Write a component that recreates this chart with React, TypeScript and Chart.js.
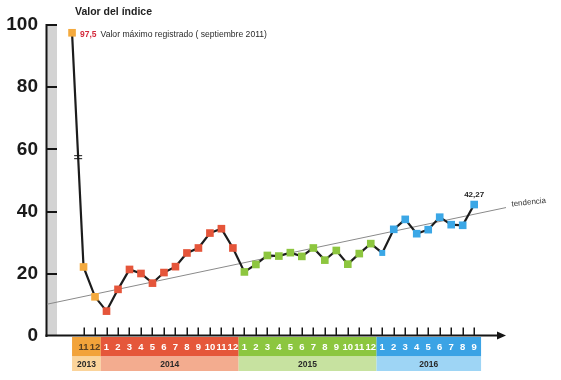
import React, { useEffect, useRef } from "react";
import { Chart, registerables } from "chart.js";

Chart.register(...registerables);

// ---- Data ----
const titleText = "Valor del índice";
const yearLabels = ["2013", "2014", "2015", "2016"];
const months2013 = ["11", "12"];
const months2014 = ["1", "2", "3", "4", "5", "6", "7", "8", "9", "10", "11", "12"];
const months2015 = ["1", "2", "3", "4", "5", "6", "7", "8", "9", "10", "11", "12"];
const months2016 = ["1", "2", "3", "4", "5", "6", "7", "8", "9"];

const maxValue = 97.5; // septiembre 2011
const maxValueLabel = "97,5";
const maxValueNote = "Valor máximo registrado ( septiembre 2011)";
const values2013 = [22.2, 12.6];
const values2014 = [8.0, 15.0, 21.4, 20.1, 17.0, 20.4, 22.3, 26.7, 28.3, 33.1, 34.5, 28.3];
const values2015 = [20.6, 23.0, 25.9, 25.7, 26.8, 25.6, 28.3, 24.4, 27.5, 23.1, 26.5, 29.7];
const values2016 = [26.7, 34.3, 37.5, 32.9, 34.2, 38.2, 35.8, 35.6, 42.27];
const lastValueLabel = "42,27";

const trendLabel = "tendencia";
const trendLine = [
  { x: -2.2, y: 10.2 },
  { x: 37.9, y: 41.4 },
];
const yTicks = [0, 20, 40, 60, 80, 100];

// ---- Styles ----
const pointColors = ["#F4AA3E", "#E5553A", "#8DC63F", "#3BA7E6"];
const monthBandColors = ["#F2A33A", "#E5573A", "#8CC63F", "#3BA3E5"];
const yearBandColors = ["#FBD49B", "#F3AC8F", "#C7E2A0", "#9ED5F5"];

const monthGroups = [months2013, months2014, months2015, months2016];
const valueGroups = [values2013, values2014, values2015, values2016];

const allValues: number[] = [maxValue];
const allYear: number[] = [0];
valueGroups.forEach((vals, g) => {
  vals.forEach((v) => {
    allValues.push(v);
    allYear.push(g);
  });
});

const FONT = "'Liberation Sans', Arial, sans-serif";

const overlay = {
  id: "overlay",
  beforeDatasetsDraw(chart: any) {
    const { ctx, scales } = chart;
    const x = scales.x;
    const y = scales.y;
    const left = chart.chartArea.left;
    const yTop = y.getPixelForValue(100);
    const y0 = y.getPixelForValue(0);
    ctx.save();
    // grey band on y axis
    ctx.fillStyle = "#D3D3D3";
    ctx.fillRect(left, yTop, 10, y0 - yTop);
    ctx.strokeStyle = "#151515";
    ctx.lineWidth = 2;
    ctx.beginPath();
    ctx.moveTo(left - 0.5, yTop - 1);
    ctx.lineTo(left - 0.5, y0 + 1);
    ctx.moveTo(left - 1.5, yTop);
    ctx.lineTo(left + 10, yTop);
    yTicks.slice(1, -1).forEach((v) => {
      const py = Math.round(y.getPixelForValue(v));
      ctx.moveTo(left - 1, py);
      ctx.lineTo(left + 10, py);
    });
    ctx.stroke();

    // x axis with arrow
    const axisY = y0 - 0.5;
    const right = chart.chartArea.right;
    ctx.beginPath();
    ctx.moveTo(left - 1.5, axisY);
    ctx.lineTo(right - 6, axisY);
    ctx.stroke();
    ctx.fillStyle = "#151515";
    ctx.beginPath();
    ctx.moveTo(right - 9, axisY - 4);
    ctx.lineTo(right, axisY);
    ctx.lineTo(right - 9, axisY + 4);
    ctx.closePath();
    ctx.fill();

    // category ticks
    ctx.lineWidth = 1.5;
    ctx.beginPath();
    for (let i = 1; i < allValues.length; i++) {
      const px = Math.round(x.getPixelForValue(i)) + 0.25;
      ctx.moveTo(px, axisY - 8);
      ctx.lineTo(px, axisY);
    }
    ctx.stroke();

    // bands under axis
    const rowTop = y0 + 1;
    const rowMid = y0 + 20.5;
    const rowBot = y0 + 35;
    let idx = 1;
    monthGroups.forEach((months, g) => {
      const first = idx;
      const last = idx + months.length - 1;
      const startV = g === 0 ? 0 : first - 0.5;
      const endV = g === monthGroups.length - 1 ? last + 0.6 : last + 0.5;
      const sx = x.getPixelForValue(startV);
      const ex = x.getPixelForValue(endV);
      ctx.fillStyle = monthBandColors[g];
      ctx.fillRect(sx, rowTop, ex - sx, rowMid - rowTop);
      ctx.fillStyle = yearBandColors[g];
      ctx.fillRect(sx, rowMid, ex - sx, rowBot - rowMid);
      ctx.textAlign = "center";
      ctx.textBaseline = "middle";
      ctx.font = `bold 9.5px ${FONT}`;
      months.forEach((m, k) => {
        ctx.fillStyle = g === 0 ? "#5a4020" : "#ffffff";
        ctx.fillText(m, x.getPixelForValue(first + k), (rowTop + rowMid) / 2 + 0.5);
      });
      ctx.fillStyle = "#2a2a2a";
      ctx.font = `bold 8.5px ${FONT}`;
      ctx.fillText(yearLabels[g], (sx + ex) / 2, (rowMid + rowBot) / 2 + 0.5);
      idx += months.length;
    });
    ctx.restore();
  },
  afterDatasetsDraw(chart: any) {
    const { ctx, scales } = chart;
    const x = scales.x;
    const y = scales.y;
    const meta = chart.getDatasetMeta(0);
    const p0 = meta.data[0];
    const p1 = meta.data[1];
    ctx.save();
    // break mark on the steep segment
    const by = y.getPixelForValue(57.5);
    const t = (by - p0.y) / (p1.y - p0.y);
    const bx = p0.x + t * (p1.x - p0.x);
    ctx.strokeStyle = "#151515";
    ctx.lineWidth = 1;
    ctx.beginPath();
    ctx.moveTo(bx - 4, by - 1.5);
    ctx.lineTo(bx + 4, by - 1.5);
    ctx.moveTo(bx - 4, by + 1.5);
    ctx.lineTo(bx + 4, by + 1.5);
    ctx.stroke();

    // title
    ctx.fillStyle = "#222";
    ctx.textAlign = "left";
    ctx.textBaseline = "middle";
    ctx.font = `bold 10.5px ${FONT}`;
    ctx.fillText(titleText, 75, 12);

    // max annotation
    ctx.font = `bold 8.5px ${FONT}`;
    ctx.fillStyle = "#D42A3C";
    ctx.fillText(maxValueLabel, p0.x + 8, p0.y + 1.5);
    const w = ctx.measureText(maxValueLabel).width;
    ctx.font = `8.6px ${FONT}`;
    ctx.fillStyle = "#2a2a2a";
    ctx.fillText(maxValueNote, p0.x + 8 + w + 4, p0.y + 1.5);

    // last value label
    const pl = meta.data[meta.data.length - 1];
    ctx.textAlign = "center";
    ctx.font = `bold 8px ${FONT}`;
    ctx.fillStyle = "#222";
    ctx.fillText(lastValueLabel, pl.x, pl.y - 10);

    // trend label
    const tx = x.getPixelForValue(trendLine[1].x) + 4;
    const ty = y.getPixelForValue(trendLine[1].y) - 3;
    ctx.translate(tx, ty);
    ctx.rotate((-6 * Math.PI) / 180);
    ctx.textAlign = "left";
    ctx.font = `8px ${FONT}`;
    ctx.fillStyle = "#333";
    ctx.fillText(trendLabel, 0, 0);
    ctx.restore();
  },
};

export default function App() {
  const ref = useRef<HTMLCanvasElement | null>(null);
  useEffect(() => {
    if (!ref.current) return;
    const smallIdx = 1 + values2013.length + values2014.length + values2015.length;
    const chart = new Chart(ref.current, {
      type: "line",
      data: {
        datasets: [
          {
            data: allValues.map((v, i) => ({ x: i, y: v })),
            borderColor: "#1c1c1c",
            borderWidth: 2.2,
            pointStyle: "rect",
            pointRadius: allValues.map((_, i) => (i === smallIdx ? 4.2 : 5.4)),
            pointBorderWidth: 0,
            pointBackgroundColor: allYear.map((g) => pointColors[g]),
            tension: 0,
          },
          {
            data: trendLine,
            borderColor: "#8a8a8a",
            borderWidth: 1,
            pointRadius: 0,
            tension: 0,
          },
        ],
      },
      options: {
        responsive: false,
        animation: false,
        devicePixelRatio: 1,
        layout: { padding: { top: 25, bottom: 44, left: 0, right: 55 } },
        plugins: { legend: { display: false }, tooltip: { enabled: false } },
        scales: {
          x: {
            type: "linear",
            min: -2.18,
            max: 37.77,
            display: false,
          },
          y: {
            min: 0,
            max: 100,
            afterFit: (s: any) => {
              s.width = 47;
            },
            afterBuildTicks: (s: any) => {
              s.ticks = yTicks.map((v) => ({ value: v }));
            },
            grid: { display: false, drawTicks: false },
            border: { display: false },
            ticks: {
              padding: 9,
              color: "#1a1a1a",
              font: { family: FONT, size: 19, weight: "bold" },
            },
          },
        },
      },
      plugins: [overlay],
    });
    return () => chart.destroy();
  }, []);
  return (
    <div style={{ position: "fixed", left: 0, top: 0, width: 561, height: 380, background: "#fff" }}>
      <canvas ref={ref} width={561} height={380} style={{ width: 561, height: 380 }} />
    </div>
  );
}
